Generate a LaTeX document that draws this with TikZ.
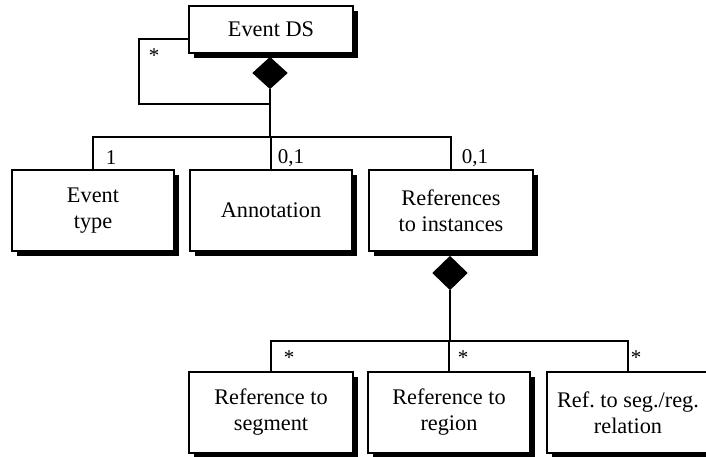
\documentclass[tikz,border=0pt]{standalone}
\usepackage{fontspec}
\setmainfont{Liberation Serif}
\usetikzlibrary{shapes.geometric,shadows}
\begin{document}
\frenchspacing
\begin{tikzpicture}[x=1pt,y=-1pt,
  line width=1.3pt,
  box/.style={draw, fill=white, align=center, inner sep=0pt,
    font=\fontsize{22.3}{26}\selectfont,
    drop shadow={shadow xshift=5pt, shadow yshift=-5pt, opacity=1, fill=black}},
  agg/.style={diamond, draw, fill=black, inner sep=0pt},
  mult/.style={inner sep=0pt, font=\fontsize{21}{24}\selectfont}]
\useasboundingbox (0,0) rectangle (706,457);
\clip (0,0) rectangle (706,457);
% boxes
\node[box, minimum width=164pt, minimum height=47pt] (eds) at (271,29.5) {Event DS};
\node[box, minimum width=162pt, minimum height=81pt] (et) at (93,210.5) {Event\\type};
\node[box, minimum width=162pt, minimum height=81pt] (ann) at (271,210.5) {Annotation};
\node[box, minimum width=164pt, minimum height=81pt] (ref) at (451,210.5) {References\\to instances};
\node[box, minimum width=164pt, minimum height=81pt] (rs) at (271,412.5) {Reference to\\segment};
\node[box, minimum width=162pt, minimum height=81pt] (rr) at (449,412.5) {Reference to\\region};
\node[box, minimum width=162pt, minimum height=81pt] (rsr) at (628,412.5) {Ref. to seg./reg.\\relation};
% aggregation diamonds
\node[agg, minimum width=34pt, minimum height=31pt] (d1) at (270,73) {};
\node[agg, minimum width=34pt, minimum height=33pt] (d2) at (450,273) {};
% connectors
\coordinate (b1) at (270,137);
\coordinate (l1) at (139,104);
\coordinate (l2) at (270,104);
\draw (d1.south) -- (b1);
\draw (et.north) |- (b1) -| (ref.north);
\draw (ann.north) -- (ann.north |- b1);
\draw ([yshift=-9.5pt]eds.west) -| (l1) -- (l2);
\coordinate (b2) at (450,341);
\draw (d2.south) -- (b2);
\draw (rs.north) |- (b2) -| (rsr.north);
\draw (rr.north) -- (rr.north |- b2);
% multiplicities
\node[mult] (m0) at (154,56) {*};
\node[mult] (m1) at (111,158) {1};
\node[mult] (m2) at (291,158) {0,1};
\node[mult] (m3) at (475,158) {0,1};
\node[mult] (m4) at (289,358) {*};
\node[mult] (m5) at (463,358) {*};
\node[mult] (m6) at (636,358) {*};
\end{tikzpicture}
\end{document}
